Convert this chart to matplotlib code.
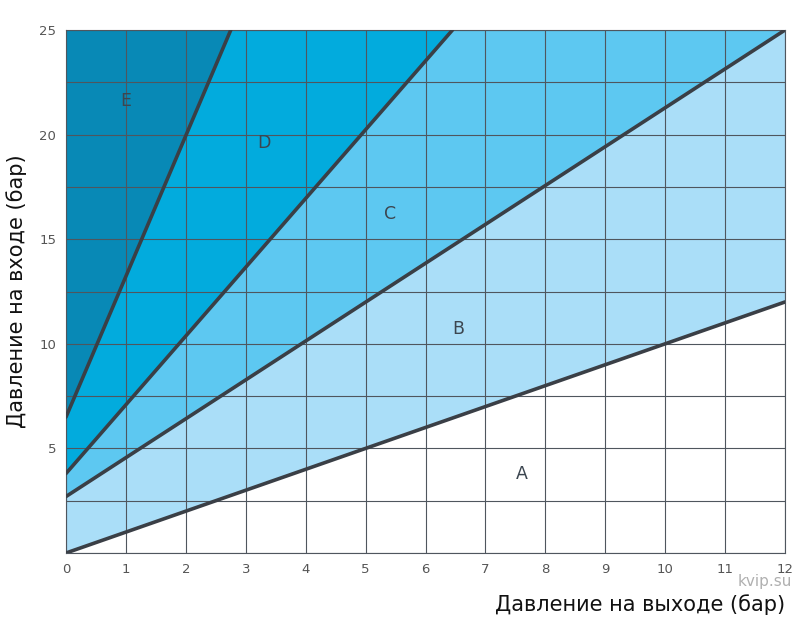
import numpy as np
import matplotlib.pyplot as plt

# boundary lines: value at x=0 and the point where each line ends
line_y0 = [0.0, 2.7, 3.8, 6.5]
line_x1 = [12.0, 12.0, 6.45, 2.75]
line_y1 = [12.0, 25.0, 25.0, 25.0]

zone_names = ['A', 'B', 'C', 'D', 'E']
zone_label_x = [7.6, 6.55, 5.4, 3.3, 1.0]
zone_label_y = [3.8, 10.7, 16.2, 19.6, 21.6]
zone_colors = ['#ffffff', '#aadef8', '#5dc8f1', '#02abdd', '#0889b6']

x_ticks = list(range(0, 13))
y_ticks = [5, 10, 15, 20, 25]

fig = plt.figure(figsize=(8, 6.25), dpi=100)
ax = fig.add_axes([0.0825, 0.1152, 0.8988, 0.8368])

x = np.linspace(0, 12, 2001)
ys = []
for y0, x1, y1 in zip(line_y0, line_x1, line_y1):
    m = (y1 - y0) / x1
    ys.append(np.minimum(y0 + m * x, 25))

bounds = [np.zeros_like(x)] + ys + [np.full_like(x, 25)]
for i in range(5):
    ax.fill_between(x, bounds[i], bounds[i + 1], color=zone_colors[i], lw=0, zorder=1)

ax.set_xticks(x_ticks)
ax.set_yticks(np.arange(0, 25.1, 2.5), minor=False)
ax.grid(True, color='#4f565e', lw=0.8, zorder=2)
ax.set_axisbelow(False)

for y0, x1, y1 in zip(line_y0, line_x1, line_y1):
    ax.plot([0, x1], [y0, y1], color='#3a3f46', lw=2.6, solid_capstyle='round', zorder=4)

for name, lx, ly in zip(zone_names, zone_label_x, zone_label_y):
    ax.text(lx, ly, name, fontsize=12.5, color='#3c4650', ha='center', va='center', zorder=5)

ax.set_xlim(0, 12)
ax.set_ylim(0, 25)
ax.set_xticklabels([str(t) for t in x_ticks])
ax.set_yticklabels(['' if v not in y_ticks else str(int(v)) for v in np.arange(0, 25.1, 2.5)])
ax.tick_params(length=0, labelsize=9.5, labelcolor='#555555', pad=7)
for s in ax.spines.values():
    s.set_color('#4f565e')
    s.set_linewidth(0.8)

ax.set_ylabel('Давление на входе (бар)', fontsize=15, color='#111111', labelpad=9)
fig.text(0.981, 0.032, 'Давление на выходе (бар)', fontsize=15, color='#111111', ha='right', va='center')
fig.text(0.99, 0.069, 'kvip.su', fontsize=11, color='#b0b0b0', ha='right', va='center', zorder=0)

fig.savefig('out.png', dpi=100)
